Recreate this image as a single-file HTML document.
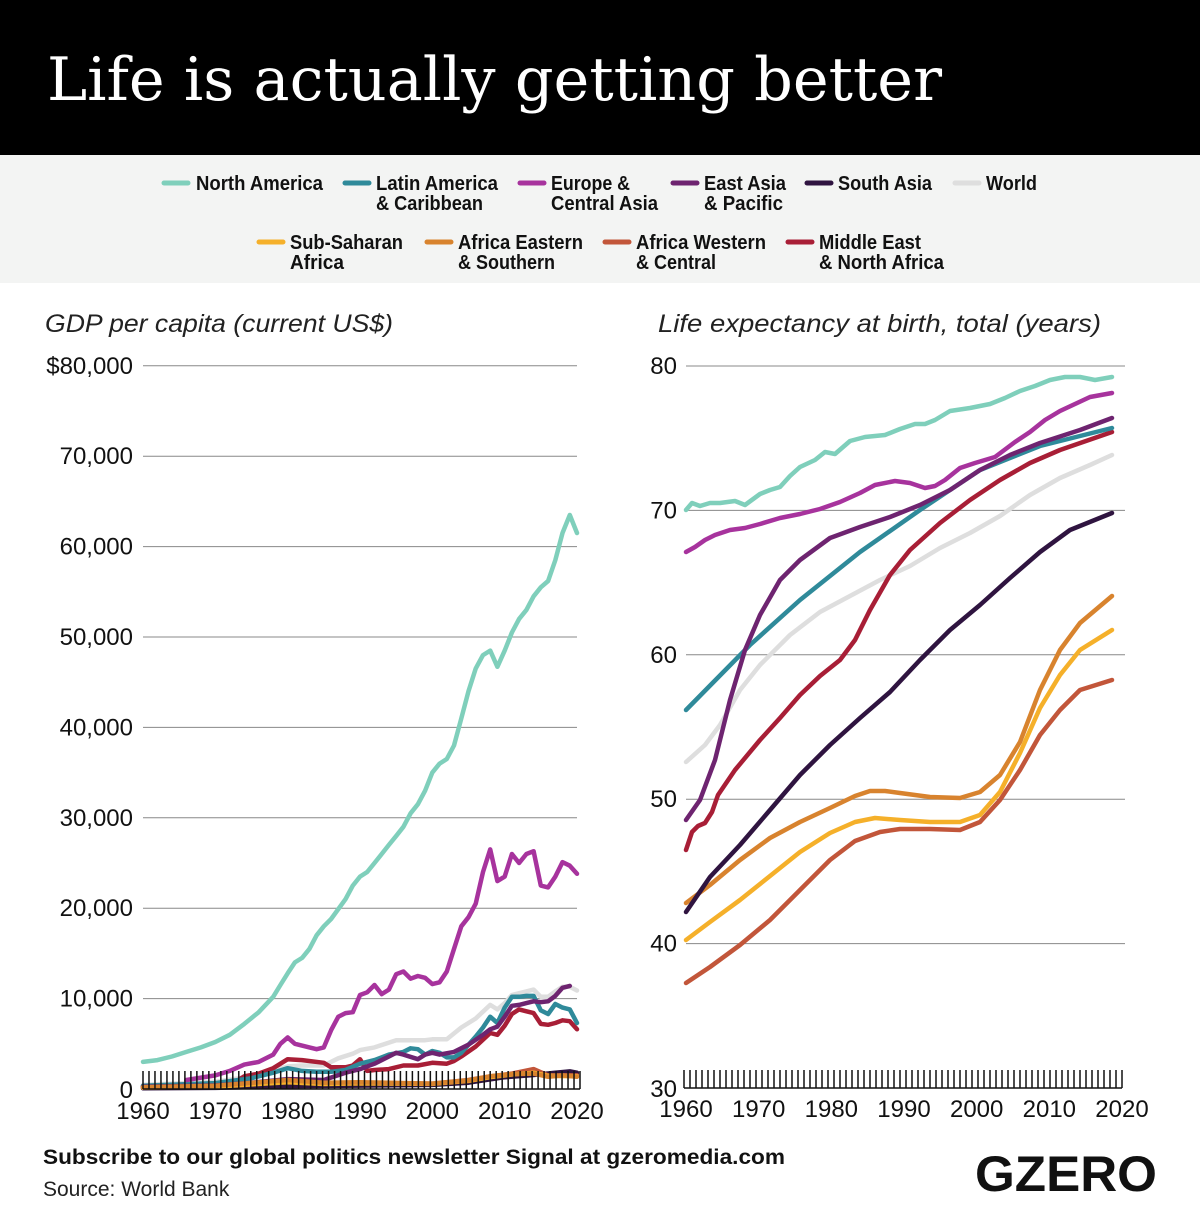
<!DOCTYPE html>
<html><head><meta charset="utf-8"><style>
html,body{margin:0;padding:0;background:#fff;}
svg{display:block;}
</style></head><body>
<svg id="s" width="1200" height="1228" xmlns="http://www.w3.org/2000/svg" font-family="'Liberation Sans',sans-serif">
<rect x="0" y="0" width="1200" height="155" fill="#000"/>
<text x="47" y="100" fill="#fff" font-family="'DejaVu Serif',serif" font-size="60" textLength="895" lengthAdjust="spacingAndGlyphs">Life is actually getting better</text>
<rect x="0" y="155" width="1200" height="128" fill="#f3f4f3"/>
<g font-weight="bold" font-size="20" fill="#111" stroke-linecap="round" lengthAdjust="spacingAndGlyphs">
<line x1="164" y1="183" x2="188" y2="183" stroke="#7fcfbb" stroke-width="5"/><text x="196" y="190" textLength="127" lengthAdjust="spacingAndGlyphs">North America</text>
<line x1="345" y1="183" x2="369" y2="183" stroke="#2f8a9a" stroke-width="5"/><text x="376" y="190" textLength="122" lengthAdjust="spacingAndGlyphs">Latin America</text><text x="376" y="210" textLength="107" lengthAdjust="spacingAndGlyphs">&amp; Caribbean</text>
<line x1="520" y1="183" x2="544" y2="183" stroke="#a7339d" stroke-width="5"/><text x="551" y="190" textLength="79" lengthAdjust="spacingAndGlyphs">Europe &amp;</text><text x="551" y="210" textLength="107" lengthAdjust="spacingAndGlyphs">Central Asia</text>
<line x1="673" y1="183" x2="697" y2="183" stroke="#6e2470" stroke-width="5"/><text x="704" y="190" textLength="82" lengthAdjust="spacingAndGlyphs">East Asia</text><text x="704" y="210" textLength="79" lengthAdjust="spacingAndGlyphs">&amp; Pacific</text>
<line x1="807" y1="183" x2="831" y2="183" stroke="#2f1440" stroke-width="5"/><text x="838" y="190" textLength="94" lengthAdjust="spacingAndGlyphs">South Asia</text>
<line x1="955" y1="183" x2="979" y2="183" stroke="#dedede" stroke-width="5"/><text x="986" y="190" textLength="51" lengthAdjust="spacingAndGlyphs">World</text>
<line x1="259" y1="242" x2="283" y2="242" stroke="#f5b02a" stroke-width="5"/><text x="290" y="249" textLength="113" lengthAdjust="spacingAndGlyphs">Sub-Saharan</text><text x="290" y="269" textLength="54" lengthAdjust="spacingAndGlyphs">Africa</text>
<line x1="427" y1="242" x2="451" y2="242" stroke="#d8832e" stroke-width="5"/><text x="458" y="249" textLength="125" lengthAdjust="spacingAndGlyphs">Africa Eastern</text><text x="458" y="269" textLength="97" lengthAdjust="spacingAndGlyphs">&amp; Southern</text>
<line x1="605" y1="242" x2="629" y2="242" stroke="#c2563a" stroke-width="5"/><text x="636" y="249" textLength="130" lengthAdjust="spacingAndGlyphs">Africa Western</text><text x="636" y="269" textLength="80" lengthAdjust="spacingAndGlyphs">&amp; Central</text>
<line x1="788" y1="242" x2="812" y2="242" stroke="#a81e36" stroke-width="5"/><text x="819" y="249" textLength="102" lengthAdjust="spacingAndGlyphs">Middle East</text><text x="819" y="269" textLength="125" lengthAdjust="spacingAndGlyphs">&amp; North Africa</text>
</g>
<text x="45" y="332" font-size="25" font-style="italic" fill="#222" textLength="348" lengthAdjust="spacingAndGlyphs">GDP per capita (current US$)</text>
<text x="658" y="332" font-size="25" font-style="italic" fill="#222" textLength="443" lengthAdjust="spacingAndGlyphs">Life expectancy at birth, total (years)</text>
<g id="grid" stroke="#888" stroke-width="1"></g>
<g id="ax" font-size="24" fill="#111"></g>
<g id="lines" fill="none" stroke-width="4.5" stroke-linejoin="round" stroke-linecap="round"></g>
<g id="ticks" stroke="#111" stroke-width="1.5"></g>
<text x="43" y="1164" font-size="21" font-weight="bold" fill="#111" textLength="742" lengthAdjust="spacingAndGlyphs">Subscribe to our global politics newsletter Signal at gzeromedia.com</text>
<text x="43" y="1196" font-size="21" fill="#222">Source: World Bank</text>
<text x="975" y="1191" font-size="50" font-weight="bold" fill="#111" textLength="182" lengthAdjust="spacingAndGlyphs">GZERO</text>
</svg>
<script>
var NS="http://www.w3.org/2000/svg";
function el(p,t,a,txt){var e=document.createElementNS(NS,t);for(var k in a)e.setAttribute(k,a[k]);if(txt!=null)e.textContent=txt;document.getElementById(p).appendChild(e);return e;}
var LX0=143,LX1=577,LY0=1089,LK=9.04;
function lx(y){return LX0+(y-1960)*(LX1-LX0)/60;}
function ly(v){return LY0-LK*v;}
for(var i=1;i<=8;i++){el("grid","line",{x1:143,x2:577,y1:ly(i*10),y2:ly(i*10)});
 el("ax","text",{x:133,y:ly(i*10)+8,"text-anchor":"end"},(i==8?"$80,000":(i*10)+",000"));}
el("ax","text",{x:133,y:1098,"text-anchor":"end"},"0");
var RX0=686,RX1=1122;
function rx(y){return RX0+(y-1960)*(RX1-RX0)/60;}
function ry(v){return 1088-(v-30)*14.44;}
for(var v=40;v<=80;v+=10){el("grid","line",{x1:686,x2:1125,y1:ry(v),y2:ry(v)});el("ax","text",{x:677,y:ry(v)+8,"text-anchor":"end"},v);}
el("ax","text",{x:677,y:1097,"text-anchor":"end"},"30");
for(var y=1960;y<=2020;y+=10){el("ax","text",{x:lx(y),y:1119,"text-anchor":"middle"},y);el("ax","text",{x:rx(y),y:1117,"text-anchor":"middle"},y);}
var N=73;
for(var i=0;i<=N;i++){var a=LX0+i*(LX1+3-LX0)/N,b=684+i*(1122-684)/N;
 el("ticks","line",{x1:a,x2:a,y1:1071,y2:1089});el("ticks","line",{x1:b,x2:b,y1:1070,y2:1088});}
el("ticks","line",{x1:LX0,x2:LX1+3,y1:1089,y2:1089});el("ticks","line",{x1:684,x2:1122,y1:1088,y2:1088});
function poly(pts,c,fx,fy){var s=[];for(var i=0;i<pts.length;i+=2)s.push(fx(pts[i]).toFixed(1)+","+fy(pts[i+1]/1000).toFixed(1));el("lines","polyline",{points:s.join(" "),stroke:c});}
function polyR(pts,c){el("lines","polyline",{points:pts.map(function(p){return p.join(",")}).join(" "),stroke:c});}
polyR([[686,983],[710,967],[740,945],[770,920],[800,890],[830,860],[855,841],[880,832],[900,829],[930,829],[960,830],[980,822],[1000,800],[1020,770],[1040,735],[1060,710],[1080,690],[1112,680]],"#c2563a");
polyR([[686,940],[710,922],[740,900],[770,876],[800,852],[830,833],[855,822],[875,818],[900,820],[930,822],[960,822],[980,815],[1000,792],[1020,753],[1040,708],[1060,675],[1080,650],[1112,630]],"#f5b02a");
polyR([[686,903],[710,885],[740,860],[770,838],[800,822],[830,808],[855,796],[870,791],[885,791],[900,793],[930,797],[960,798],[980,792],[1000,775],[1020,742],[1040,690],[1060,650],[1080,623],[1112,596]],"#d8832e");
polyR([[686,912],[710,877],[740,845],[770,810],[800,775],[830,745],[860,718],[890,692],[920,660],[950,630],[980,605],[1010,578],[1040,552],[1070,530],[1112,513]],"#2f1440");
polyR([[686,762],[705,745],[720,725],[740,690],[760,665],[790,635],[820,612],[850,596],[880,580],[910,566],[940,548],[970,533],[1000,516],[1030,495],[1060,478],[1090,465],[1112,455]],"#dedede");
polyR([[686,850],[692,832],[698,826],[705,823],[712,812],[718,795],[735,770],[760,740],[780,718],[800,695],[820,676],[840,660],[855,640],[870,610],[890,575],[910,550],[940,523],[970,500],[1000,480],[1030,463],[1060,450],[1112,432]],"#a81e36");
polyR([[686,710],[750,645],[800,600],[860,552],[920,510],[980,470],[1040,446],[1112,428]],"#2f8a9a");
polyR([[686,820],[700,800],[715,760],[730,700],[745,650],[760,615],[780,580],[800,560],[830,538],[860,527],[890,517],[920,505],[950,490],[980,470],[1010,455],[1040,443],[1080,430],[1112,418]],"#6e2470");
polyR([[686,552],[695,547],[705,540],[715,535],[730,530],[745,528],[760,524],[780,518],[800,514],[820,509],[840,502],[860,493],[875,485],[895,481],[910,483],[925,488],[935,486],[945,480],[960,468],[975,463],[995,457],[1015,442],[1030,432],[1045,420],[1060,411],[1075,404],[1090,397],[1112,393]],"#a7339d");
polyR([[686,510],[692,503],[700,506],[710,503],[720,503],[735,501],[745,505],[760,494],[770,490],[780,487],[790,476],[800,467],[815,460],[825,452],[835,454],[850,441],[865,437],[885,435],[900,429],[915,424],[925,424],[935,420],[950,411],[970,408],[990,404],[1005,398],[1020,391],[1035,386],[1050,380],[1065,377],[1080,377],[1095,380],[1112,377]],"#7fcfbb");
poly([1960,450,1970,800,1975,1400,1980,2500,1982,2600,1985,2600,1987,3400,1989,3900,1990,4300,1992,4600,1995,5400,1997,5400,1999,5400,2000,5500,2002,5500,2004,6800,2006,7800,2008,9300,2009,8800,2010,9500,2011,10400,2012,10600,2013,10800,2014,11000,2015,10200,2016,10200,2017,10800,2018,11300,2019,11300,2020,10900],"#dedede",lx,ly);
poly([1960,300,1970,500,1973,900,1974,1400,1976,1700,1978,2300,1980,3300,1982,3200,1985,2900,1986,2400,1988,2400,1989,2600,1990,3300,1991,2000,1992,2100,1994,2200,1996,2600,1998,2600,2000,2900,2002,2800,2003,3100,2004,3600,2006,4700,2008,6200,2009,6000,2010,7000,2011,8300,2012,8800,2013,8600,2014,8400,2015,7200,2016,7100,2017,7300,2018,7600,2019,7500,2020,6600],"#a81e36",lx,ly);
poly([1960,350,1970,650,1975,1200,1978,1800,1980,2300,1982,2000,1984,1900,1986,1900,1988,2100,1990,2800,1992,3200,1994,3800,1996,4100,1997,4500,1998,4400,1999,3800,2000,4200,2001,4000,2002,3500,2003,3500,2004,4000,2005,4900,2006,5800,2007,6800,2008,8000,2009,7300,2010,9000,2011,10200,2012,10200,2013,10300,2014,10300,2015,8700,2016,8300,2017,9400,2018,9000,2019,8800,2020,7300],"#2f8a9a",lx,ly);
poly([1960,250,1970,400,1975,700,1980,1100,1985,1000,1988,1800,1990,2200,1992,2800,1994,3600,1995,4000,1996,3800,1998,3300,1999,3800,2000,4000,2001,3800,2003,4100,2005,4900,2007,6000,2008,6600,2009,6900,2010,8000,2011,9200,2012,9300,2013,9500,2014,9700,2015,9600,2016,9700,2017,10300,2018,11200,2019,11400],"#6e2470",lx,ly);
poly([1960,80,1970,120,1980,300,1990,380,2000,450,2005,700,2010,1300,2014,1550,2017,1800,2019,1950,2020,1800],"#2f1440",lx,ly);
poly([1960,150,1970,300,1980,900,1985,650,1990,700,2000,600,2005,1000,2008,1400,2011,1700,2014,2200,2016,1500,2020,1500],"#c2563a",lx,ly);
poly([1960,150,1970,260,1980,750,1985,550,1990,620,2000,560,2005,900,2008,1300,2011,1600,2014,1800,2016,1450,2020,1400],"#f5b02a",lx,ly);
poly([1960,200,1970,350,1980,1000,1985,700,1990,750,2000,600,2005,950,2008,1400,2011,1650,2014,1700,2016,1350,2018,1500,2020,1350],"#d8832e",lx,ly);
poly([1966,1000,1970,1500,1972,2000,1974,2700,1976,3000,1978,3800,1979,5000,1980,5700,1981,5000,1983,4600,1984,4400,1985,4600,1986,6500,1987,8000,1988,8400,1989,8500,1990,10400,1991,10700,1992,11500,1993,10500,1994,11000,1995,12700,1996,13000,1997,12200,1998,12500,1999,12300,2000,11600,2001,11800,2002,13000,2003,15500,2004,18000,2005,19000,2006,20500,2007,24000,2008,26500,2009,23000,2010,23500,2011,26000,2012,25000,2013,26000,2014,26300,2015,22500,2016,22300,2017,23500,2018,25100,2019,24700,2020,23800],"#a7339d",lx,ly);
poly([1960,3000,1962,3200,1964,3600,1966,4100,1968,4600,1970,5200,1972,6000,1974,7200,1976,8500,1978,10200,1979,11500,1980,12800,1981,14000,1982,14500,1983,15500,1984,17000,1985,18000,1986,18800,1988,21000,1989,22500,1990,23500,1991,24000,1992,25000,1993,26000,1994,27000,1995,28000,1996,29000,1997,30500,1998,31500,1999,33000,2000,35000,2001,36000,2002,36500,2003,38000,2004,41000,2005,44000,2006,46500,2007,48000,2008,48500,2009,46700,2010,48500,2011,50500,2012,52000,2013,53000,2014,54500,2015,55500,2016,56200,2017,58500,2018,61500,2019,63500,2020,61500],"#7fcfbb",lx,ly);
</script>
</body></html>
